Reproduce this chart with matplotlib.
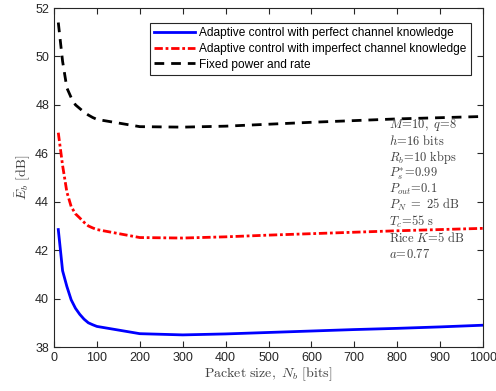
import matplotlib
matplotlib.use("Agg")
import matplotlib.pyplot as plt

# packet sizes (bits)
packet_size = [10, 20, 30, 40, 50, 60, 70, 80, 90, 100, 200, 300, 400, 500, 600, 700, 800, 900, 1000]

# average energy per bit (dB)
eb_perfect = [42.85, 41.15, 40.5, 39.95, 39.6, 39.35, 39.15, 39.0, 38.92, 38.85,
              38.55, 38.5, 38.54, 38.6, 38.66, 38.72, 38.77, 38.83, 38.9]
eb_imperfect = [46.85, 45.5, 44.4, 43.8, 43.5, 43.33, 43.15, 43.0, 42.92, 42.85,
                42.52, 42.5, 42.55, 42.62, 42.68, 42.74, 42.8, 42.85, 42.9]
eb_fixed = [51.4, 49.8, 48.7, 48.3, 48.0, 47.85, 47.7, 47.58, 47.48, 47.4,
            47.1, 47.08, 47.12, 47.2, 47.28, 47.35, 47.42, 47.47, 47.52]

labels = ["Adaptive control with perfect channel knowledge",
          "Adaptive control with imperfect channel knowledge",
          "Fixed power and rate"]

params = [r"$M\!=\!10,\ q\!=\!8$",
          r"$h\!=\!16\ \mathrm{bits}$",
          r"$R_b\!=\!10\ \mathrm{kbps}$",
          r"$P_s^{*}\!=\!0.99$",
          r"$P_{out}\!=\!0.1$",
          r"$P_N\ =\ 25\ \mathrm{dB}$",
          r"$T_c\!=\!55\ \mathrm{s}$",
          r"$\mathrm{Rice}\ K\!=\!5\ \mathrm{dB}$",
          r"$a\!=\!0.77$"]

plt.rcParams['font.family'] = ['Liberation Sans', 'DejaVu Sans']
plt.rcParams['mathtext.fontset'] = 'cm'

fig = plt.figure(figsize=(4.96, 3.91), dpi=100)
ax = fig.add_axes([54 / 496, 1 - 347 / 391, 429 / 496, 339 / 391])

ax.plot(packet_size, eb_perfect, color='blue', lw=2, label=labels[0])
ax.plot(packet_size, eb_imperfect, color='red', lw=2, dashes=(3, 1, 1, 1), label=labels[1])
ax.plot(packet_size, eb_fixed, color='black', lw=2, dashes=(3.5, 2.5), label=labels[2])

ax.set_xlim(0, 1000)
ax.set_ylim(38, 52)
ax.set_xticks(range(0, 1001, 100))
ax.set_yticks(range(38, 53, 2))
ax.tick_params(direction='in', top=True, right=True, labelsize=9, length=4, colors='#262626')
for sp in ax.spines.values():
    sp.set_color('#262626')
    sp.set_linewidth(0.8)

ax.set_xlabel(r"$\mathrm{Packet\ size,}\ N_b\ \mathrm{[bits]}$", fontsize=10, color='#404040', labelpad=1)
ax.set_ylabel(r"$\bar{E}_b\ \mathrm{[dB]}$", fontsize=10, color='#404040', labelpad=2)

leg = ax.legend(loc='upper right', bbox_to_anchor=(0.972, 0.955), fontsize=8.6, fancybox=False,
                edgecolor='#262626', framealpha=1, handlelength=3.4, borderpad=0.35,
                labelspacing=0.3, handletextpad=0.4, borderaxespad=0)
leg.get_frame().set_linewidth(0.8)

# parameter list, one line at a time
for i, line in enumerate(params):
    ax.text(0.782, 0.645 - 0.0478 * i, line, transform=ax.transAxes, fontsize=9,
            va='baseline', ha='left', color='#404040')

fig.savefig("out.png", dpi=100)
